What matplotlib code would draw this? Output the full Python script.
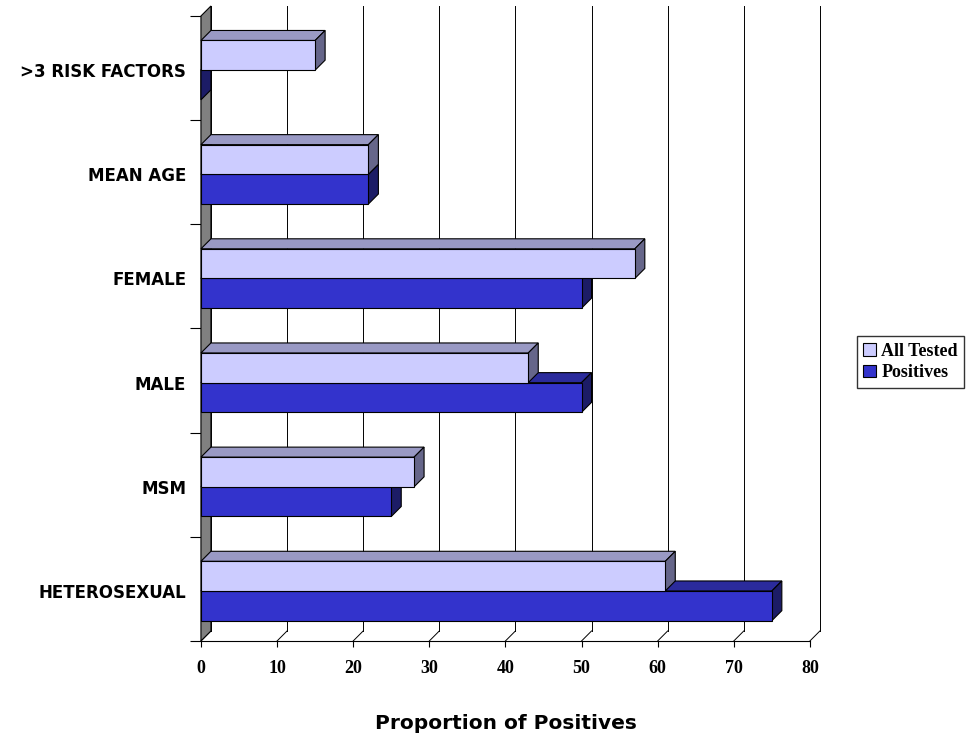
import matplotlib.pyplot as plt
from matplotlib.patches import Polygon, Patch

# Categories listed bottom to top, as drawn on the y axis
categories = ['HETEROSEXUAL', 'MSM', 'MALE', 'FEMALE', 'MEAN AGE', '>3 RISK FACTORS']
all_tested = [61, 28, 43, 57, 22, 15]
positives = [75, 25, 50, 50, 22, 0]
x_ticks = [0, 10, 20, 30, 40, 50, 60, 70, 80]

# Pseudo-3D depth, in data units
DX = 1.31
DY = 0.096
BAR_H = 0.285
GROUP_BASE = 0.195

# face colours: front, top, side
STYLE_ALL = ('#CCCCFF', '#9999C4', '#66668A')
STYLE_POS = ('#3333CC', '#2B2B9C', '#1C1C66')


def draw_bar(ax, value, y0, h, style):
    front, top, side = style
    kw = dict(edgecolor='black', linewidth=0.8, clip_on=False, zorder=5)
    ax.add_patch(Polygon([(0, y0 + h), (value, y0 + h), (value + DX, y0 + h + DY),
                          (DX, y0 + h + DY)], closed=True, facecolor=top, **kw))
    ax.add_patch(Polygon([(value, y0), (value + DX, y0 + DY), (value + DX, y0 + h + DY),
                          (value, y0 + h)], closed=True, facecolor=side, **kw))
    if value > 0:
        ax.add_patch(Polygon([(0, y0), (value, y0), (value, y0 + h), (0, y0 + h)],
                             closed=True, facecolor=front, **kw))


def main():
    fig = plt.figure(figsize=(9.68, 7.37), dpi=100)
    ax = fig.add_axes([0.2076, 0.1303, 0.6291, 0.8480])
    n = len(categories)
    ax.set_xlim(0, 80)
    ax.set_ylim(0, n)

    for s in ['top', 'right', 'left']:
        ax.spines[s].set_visible(False)
    ax.spines['bottom'].set_linewidth(0.8)

    # back wall gridlines and floor diagonals
    for v in x_ticks:
        ax.plot([v + DX, v + DX], [DY, n + DY], color='black', lw=0.7,
                clip_on=False, zorder=1)
        ax.plot([v, v + DX], [0, DY], color='black', lw=0.7, clip_on=False, zorder=1)

    # left side wall
    ax.add_patch(Polygon([(0, 0), (DX, DY), (DX, n + DY), (0, n)], closed=True,
                         facecolor='#808080', edgecolor='black', linewidth=0.8,
                         clip_on=False, zorder=2))

    for i in range(n):
        draw_bar(ax, positives[i], i + GROUP_BASE, BAR_H, STYLE_POS)
        draw_bar(ax, all_tested[i], i + GROUP_BASE + BAR_H, BAR_H, STYLE_ALL)

    ax.set_xticks(x_ticks)
    ax.set_xticklabels([str(v) for v in x_ticks], family='Liberation Serif',
                       fontweight='bold', fontsize=13)
    ax.tick_params(axis='x', direction='out', length=4, width=0.8, pad=10)

    ax.set_yticks([i + GROUP_BASE + BAR_H for i in range(n)])
    ax.set_yticklabels(categories, fontweight='bold', fontsize=12,
                       family='DejaVu Sans')
    ax.tick_params(axis='y', which='major', length=0, pad=10.5)
    ax.set_yticks(range(n + 1), minor=True)
    ax.tick_params(axis='y', which='minor', direction='out', length=8, width=0.8)

    ax.set_xlabel('Proportion of Positives', fontsize=14.5, fontweight='bold',
                  labelpad=26)

    handles = [Patch(facecolor=STYLE_ALL[0], edgecolor='black', linewidth=0.8),
               Patch(facecolor=STYLE_POS[0], edgecolor='black', linewidth=0.8)]
    leg = fig.legend(handles, ['All Tested', 'Positives'], loc='center left',
                     bbox_to_anchor=(857 / 968, 1 - 362 / 737),
                     prop={'family': 'Liberation Serif', 'weight': 'bold', 'size': 13},
                     frameon=True, fancybox=False, borderpad=0.35, handlelength=0.7,
                     handleheight=0.7, handletextpad=0.3, labelspacing=0.25,
                     borderaxespad=0)
    leg.get_frame().set_edgecolor('black')
    leg.get_frame().set_linewidth(1.0)

    fig.savefig('out.png', dpi=100)


if __name__ == '__main__':
    main()
